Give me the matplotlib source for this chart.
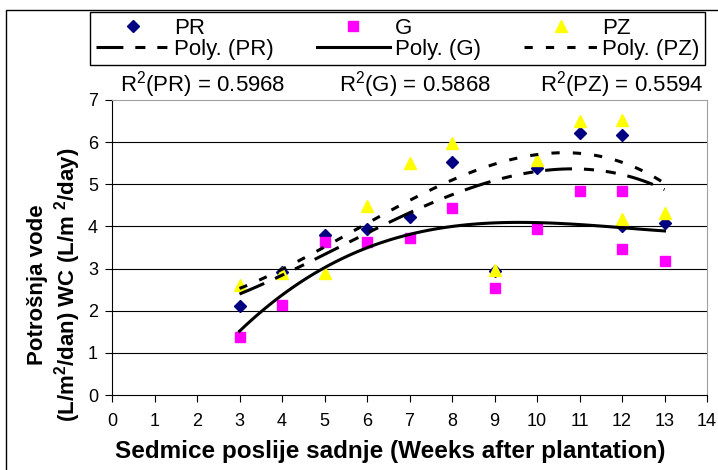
import matplotlib
matplotlib.use('Agg')
import matplotlib.pyplot as plt
import numpy as np
from matplotlib.patches import Rectangle

plt.rcParams['font.family'] = ['Liberation Sans', 'DejaVu Sans']
plt.rcParams['mathtext.fontset'] = 'custom'
plt.rcParams['mathtext.rm'] = 'Liberation Sans'
plt.rcParams['mathtext.default'] = 'regular'

# values (weekly points, trend lines are fitted to these)
weeks = [3, 4, 5, 6, 7, 8, 9, 10, 11, 12, 13]
pr = [2.11, 2.93, 3.80, 3.94, 4.23, 5.52, 2.95, 5.39, 6.22, 6.18, 4.08]
g = [1.38, 2.13, 3.64, 3.64, 3.73, 4.44, 2.54, 3.94, 4.83, 4.83, 3.19]
pz = [2.61, 2.90, 2.90, 4.49, 5.51, 5.98, 2.97, 5.58, 6.49, 6.52, 4.32]
# second set of points at week 12 (not in the trend lines)
week_b = [12]
pr_b = [4.00]
g_b = [3.47]
pz_b = [4.18]
r2_text = ['R$^2$(PR) = 0.5968', 'R$^2$(G) = 0.5868', 'R$^2$(PZ) = 0.5594']
poly_order = 3

fig = plt.figure(figsize=(7.18, 4.7), dpi=100)
ax = fig.add_axes([112/718, 1-395/470, 595/718, 295/470])

h_pr, = ax.plot(weeks + week_b, pr + pr_b, ls='none', marker='D', ms=6.3, color='#000080', zorder=3)
h_g, = ax.plot(weeks + week_b, g + g_b, ls='none', marker='s', ms=7.5, color='#ff00ff', zorder=3)
h_pz, = ax.plot(weeks + week_b, pz + pz_b, ls='none', marker='^', ms=8.5, color='#ffff00', zorder=3)

# polynomial trend lines
xs = np.linspace(min(weeks), max(weeks), 80)
fits = []
for vals, dash in [(pr, (8.8, 3.9, 3.3, 3.9, 3.3, 3.9)), (g, None), (pz, (2.7, 4.3))]:
    c = np.polyfit(weeks, vals, poly_order)
    if dash is None:
        h, = ax.plot(xs, np.polyval(c, xs), color='black', lw=2.2, zorder=4)
    else:
        h, = ax.plot(xs, np.polyval(c, xs), color='black', lw=2.2, dashes=dash, zorder=4)
    fits.append(h)

ax.set_xlim(0, 14)
ax.set_ylim(0, 7)
ax.set_xticks(range(15))
ax.set_yticks(range(8))
ax.yaxis.grid(True, color='black', lw=0.8)
ax.get_ygridlines()[-1].set_visible(False)
ax.get_ygridlines()[0].set_visible(False)
for s in ['top', 'right']:
    ax.spines[s].set_color('#a0a0a0')
for s in ['left', 'bottom']:
    ax.spines[s].set_color('black')
ax.tick_params(axis='both', direction='out', length=5, width=0.8, labelsize=13)
ax.tick_params(axis='x', pad=8)
ax.tick_params(axis='y', pad=5)

ax.set_xlabel('Sedmice poslije sadnje (Weeks after plantation)', fontsize=17.5, fontweight='bold')
ax.xaxis.set_label_coords(0.467, -0.153)
ax.set_ylabel('Potrošnja vode\n(L/m$^2$/dan) WC (L/m $^2$/day)', fontsize=16, fontweight='bold')
ax.yaxis.set_label_coords(-0.048, 0.375)

for txt, xp in zip(r2_text, [120, 339, 540]):
    fig.text(xp/718, 1-85/470, txt, fontsize=16, va='center', ha='left')

leg = fig.legend([h_pr, fits[0], h_g, fits[1], h_pz, fits[2]],
                 ['PR', 'Poly. (PR)', 'G', 'Poly. (G)', 'PZ', 'Poly. (PZ)'],
                 ncol=3, loc='upper center', bbox_to_anchor=(397.5/718, 1-12/470),
                 fontsize=16, fancybox=False, edgecolor='black', framealpha=1,
                 handlelength=3.3, handletextpad=0.2, columnspacing=1.95,
                 labelspacing=0.0, borderpad=0.25, numpoints=1, borderaxespad=0)
leg.get_frame().set_linewidth(1)

fig.add_artist(Rectangle((6/718, -0.1), 1.2, 1-10/470+0.1, transform=fig.transFigure,
                         fill=False, ec='black', lw=1, clip_on=False))

fig.savefig('out.png', dpi=100)
